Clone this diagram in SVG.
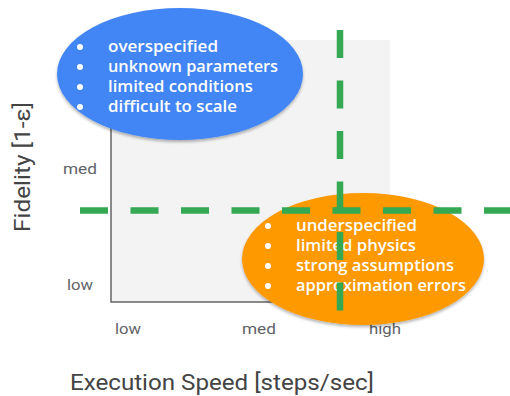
<svg xmlns="http://www.w3.org/2000/svg" width="510" height="396" viewBox="0 0 510 396">
  <defs>
    <filter id="shadow" x="-10%" y="-10%" width="120%" height="130%">
      <feDropShadow dx="0" dy="2" stdDeviation="1.5" flood-color="#000" flood-opacity="0.3"/>
    </filter>
  </defs>
  <style>
    .tick { font-family: "Roboto", "Liberation Sans", sans-serif; font-size: 15px; fill: #5f6368; }
    .axis-title { font-family: "Roboto", "Liberation Sans", sans-serif; font-size: 22px; fill: #444; }
    .bullet-text { font-family: "Open Sans", "Liberation Sans", sans-serif; font-size: 16px; font-weight: 600; fill: #ffffff; }
    .dot { fill: #ffffff; }
    .guide { stroke: #34a853; stroke-width: 6.5; stroke-dasharray: 28 22.5; fill: none; }
  </style>

  <!-- plot area -->
  <g id="plot">
    <rect x="111" y="40" width="279" height="262" fill="#f3f3f3"/>
    <path d="M111 40 V302 H390" fill="none" stroke="#666" stroke-width="1.5"/>
  </g>

  <!-- axis ticks and titles -->
  <g id="axes">
    <text class="tick" x="63" y="174" textLength="34" lengthAdjust="spacingAndGlyphs">med</text>
    <text class="tick" x="67" y="290" textLength="26" lengthAdjust="spacingAndGlyphs">low</text>
    <text class="tick" x="115" y="334" textLength="26" lengthAdjust="spacingAndGlyphs">low</text>
    <text class="tick" x="242" y="334" textLength="34" lengthAdjust="spacingAndGlyphs">med</text>
    <text class="tick" x="369" y="334" textLength="32" lengthAdjust="spacingAndGlyphs">high</text>
    <text class="axis-title" x="70" y="390" textLength="304" lengthAdjust="spacingAndGlyphs">Execution Speed [steps/sec]</text>
    <text class="axis-title" transform="translate(30 232) rotate(-90)" textLength="130" lengthAdjust="spacingAndGlyphs">Fidelity [1-ε]</text>
  </g>

  <!-- high-fidelity, slow region -->
  <g id="blue-region">
    <ellipse cx="180" cy="74" rx="123" ry="66" fill="#4285f4" filter="url(#shadow)"/>
    <circle class="dot" cx="80" cy="47" r="3"/>
    <circle class="dot" cx="80" cy="67" r="3"/>
    <circle class="dot" cx="80" cy="87" r="3"/>
    <circle class="dot" cx="80" cy="107" r="3"/>
    <text class="bullet-text" x="108" y="52" textLength="110" lengthAdjust="spacingAndGlyphs">overspecified</text>
    <text class="bullet-text" x="108" y="72" textLength="170" lengthAdjust="spacingAndGlyphs">unknown parameters</text>
    <text class="bullet-text" x="108" y="92" textLength="145" lengthAdjust="spacingAndGlyphs">limited conditions</text>
    <text class="bullet-text" x="108" y="112" textLength="129" lengthAdjust="spacingAndGlyphs">difficult to scale</text>
  </g>

  <!-- fast, low-fidelity region -->
  <g id="orange-region">
    <ellipse cx="363" cy="259" rx="121" ry="66" fill="#ff9900" filter="url(#shadow)"/>
    <circle class="dot" cx="268" cy="226" r="3"/>
    <circle class="dot" cx="268" cy="246" r="3"/>
    <circle class="dot" cx="268" cy="266" r="3"/>
    <circle class="dot" cx="268" cy="286" r="3"/>
    <text class="bullet-text" x="296" y="231" textLength="121" lengthAdjust="spacingAndGlyphs">underspecified</text>
    <text class="bullet-text" x="296" y="251" textLength="120" lengthAdjust="spacingAndGlyphs">limited physics</text>
    <text class="bullet-text" x="296" y="271" textLength="158" lengthAdjust="spacingAndGlyphs">strong assumptions</text>
    <text class="bullet-text" x="296" y="291" textLength="170" lengthAdjust="spacingAndGlyphs">approximation errors</text>
  </g>

  <!-- dashed threshold lines -->
  <g id="connectors">
    <line class="guide" x1="340" y1="30" x2="340" y2="312"/>
    <line class="guide" x1="80" y1="210.5" x2="512" y2="210.5"/>
  </g>
</svg>
